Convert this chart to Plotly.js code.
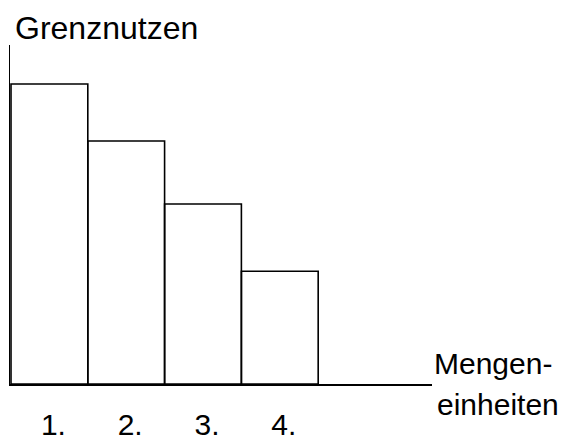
<!DOCTYPE html>
<html>
<head>
<meta charset="utf-8">
<script src="https://cdn.plot.ly/plotly-3.0.1.min.js"></script>
<style>
html,body{margin:0;padding:0;background:#fff;}
#chart{width:561px;height:440px;}
</style>
</head>
<body>
<div id="chart"></div>
<script>
// Data
const units = [1, 2, 3, 4];
const tickLabels = ["1.", "2.", "3.", "4."];
const marginalUtility = [5, 4.05, 3, 1.88];
const yTitle = "Grenznutzen";
const xTitleLine1 = "Mengen-";
const xTitleLine2 = "einheiten";

const FONT = "Arial, 'Liberation Sans', sans-serif";

const trace = {
  type: "bar",
  x: units,
  y: marginalUtility,
  width: 1,
  marker: {color: "rgba(255,255,255,0)", line: {color: "#000", width: 1.6}},
  hoverinfo: "none"
};

const layout = {
  width: 561, height: 440,
  margin: {l: 10, r: 129, t: 45, b: 56},
  paper_bgcolor: "#fff",
  plot_bgcolor: "#fff",
  showlegend: false,
  font: {family: FONT, color: "#000", size: 30},
  xaxis: {
    range: [0.487, 5.982],
    tickmode: "array",
    tickvals: units,
    ticktext: tickLabels,
    ticks: "",
    showgrid: false,
    zeroline: false,
    showline: true,
    linecolor: "#000",
    linewidth: 2,
    tickfont: {family: FONT, size: 30, color: "#000"},
    ticklabelshift: 4,
    ticklabelstandoff: 13,
    fixedrange: true
  },
  yaxis: {
    range: [0, 5.65],
    showticklabels: false,
    ticks: "",
    showgrid: false,
    zeroline: false,
    showline: true,
    linecolor: "#000",
    linewidth: 1.5,
    fixedrange: true
  },
  annotations: [
    {text: yTitle, xref: "paper", yref: "paper", x: 0, y: 1, xanchor: "left", yanchor: "bottom",
     xshift: 3, yshift: -3, showarrow: false, font: {family: FONT, size: 32, color: "#000"}},
    {text: xTitleLine1, xref: "paper", yref: "paper", x: 1, y: 0, xanchor: "left", yanchor: "middle",
     xshift: 0, yshift: 21, showarrow: false, font: {family: FONT, size: 30, color: "#000"}},
    {text: xTitleLine2, xref: "paper", yref: "paper", x: 1, y: 0, xanchor: "left", yanchor: "middle",
     xshift: 3, yshift: -20, showarrow: false, font: {family: FONT, size: 30, color: "#000"}}
  ]
};

Plotly.newPlot("chart", [trace], layout, {displayModeBar: false, staticPlot: true});
</script>
</body>
</html>
